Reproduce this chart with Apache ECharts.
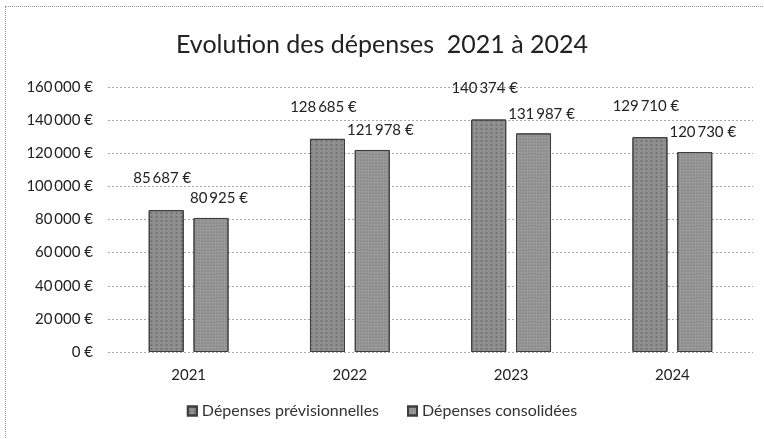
<!DOCTYPE html>
<html>
<head>
<meta charset="utf-8">
<script src="https://cdn.jsdelivr.net/npm/echarts@6/dist/echarts.min.js"></script>
<style>
    html, body {
        margin: 0;
        padding: 0;
        background: #fff;
    }
    .frame {
        position: absolute;
        left: 5px;
        top: 6px;
        width: 770px;
        height: 440px;
        border: 1px dotted #9a9a9a;
    }
    #chart {
        position: absolute;
        left: 0;
        top: 0;
        width: 764px;
        height: 439px;
    }
</style>
</head>
<body>
<div class="frame"></div>
<div id="chart"></div>
<script>
// values
var years = ['2021', '2022', '2023', '2024']
var previsionnelles = [85687, 128685, 140374, 129710]
var consolidees = [80925, 121978, 131987, 120730]
var seriesNames = ['Dépenses prévisionnelles', 'Dépenses consolidées']

function euro(v) {
    var s = String(Math.round(v)).replace(/\B(?=(\d{3})+(?!\d))/g, '\u2009')
    return s + ' €'
}

var chart = echarts.init(document.getElementById('chart'))
var font = 'Lato, "Open Sans", sans-serif'

var option = {
    animation: false,
    textStyle: { fontFamily: font },
    title: {
        text: 'Evolution des dépenses  2021 à 2024',
        left: 'center',
        top: 27,
        textStyle: {
            fontFamily: font,
            fontSize: 25,
            fontWeight: 'normal',
            color: '#222'
        }
    },
    legend: {
        bottom: 15,
        left: 'center',
        icon: 'rect',
        itemWidth: 9,
        itemHeight: 9,
        itemGap: 28,
        textStyle: { fontFamily: font, fontSize: 16, color: '#333' },
        data: seriesNames
    },
    grid: {
        left: 108,
        right: 11,
        top: 87,
        bottom: 87
    },
    xAxis: {
        type: 'category',
        data: years,
        axisLine: { show: false },
        axisTick: { show: false },
        axisLabel: { margin: 16, fontSize: 15, color: '#222', fontFamily: font }
    },
    yAxis: {
        type: 'value',
        min: 0,
        max: 160000,
        interval: 20000,
        axisLine: { show: false },
        axisTick: { show: false },
        axisLabel: {
            margin: 15,
            fontSize: 15,
            color: '#222',
            fontFamily: font,
            formatter: euro
        },
        splitLine: {
            lineStyle: { color: '#a8a8a8', type: [2, 2], width: 1 }
        }
    },
    series: [
        {
            name: seriesNames[0],
            type: 'bar',
            data: previsionnelles,
            barWidth: 35,
            barGap: '28%',
            itemStyle: {
                color: '#8f8f8f',
                borderColor: '#3e3e3e',
                borderWidth: 1,
                decal: {
                    symbol: 'rect',
                    symbolSize: 0.6,
                    color: 'rgba(40,40,40,0.45)',
                    dashArrayX: [3, 2],
                    dashArrayY: [2, 2],
                    rotation: 0
                }
            },
            label: {
                show: true,
                position: 'top',
                offset: [-4, -19],
                fontSize: 15,
                color: '#222',
                fontFamily: font,
                formatter: function (p) { return euro(p.value) }
            }
        },
        {
            name: seriesNames[1],
            type: 'bar',
            data: consolidees,
            barWidth: 35,
            itemStyle: {
                color: '#999999',
                borderColor: '#3e3e3e',
                borderWidth: 1,
                decal: {
                    symbol: 'circle',
                    symbolSize: 0.6,
                    color: 'rgba(40,40,40,0.4)',
                    dashArrayX: [2, 1],
                    dashArrayY: [2, 1],
                    rotation: 0
                }
            },
            label: {
                show: true,
                position: 'top',
                offset: [8, -7],
                fontSize: 15,
                color: '#222',
                fontFamily: font,
                formatter: function (p) { return euro(p.value) }
            }
        }
    ]
}

chart.setOption(option)
</script>
</body>
</html>
